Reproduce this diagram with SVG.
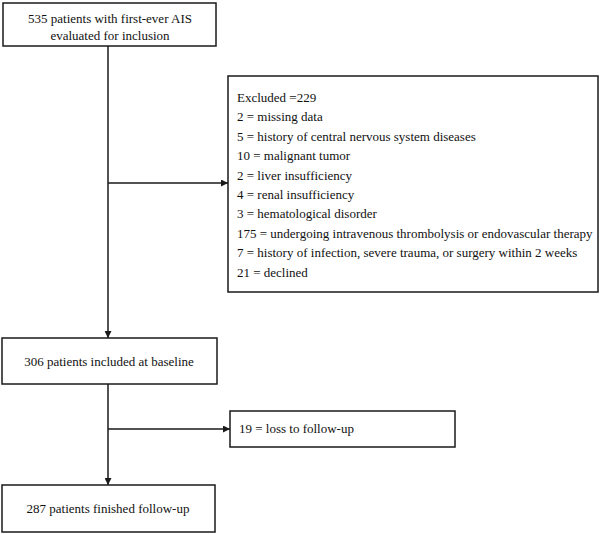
<svg xmlns="http://www.w3.org/2000/svg" width="600" height="534" viewBox="0 0 600 534">
<style>
.box{fill:#fff;stroke:#1a1a1a;stroke-width:1.5}
.t{font-family:"Liberation Serif","Times New Roman",serif;font-size:13px;fill:#111}
.c{text-anchor:middle}
.ln{stroke:#1a1a1a;stroke-width:1.5;fill:none}
</style>
<defs>
<marker id="ah" viewBox="0 0 10 10" refX="10" refY="5" markerWidth="7" markerHeight="7" markerUnits="userSpaceOnUse" orient="auto">
<path d="M0,0 L10,5 L0,10 z" fill="#1a1a1a"/>
</marker>
</defs>
<rect width="600" height="534" fill="#fff"/>
<g id="connectors">
<line class="ln" x1="108" y1="46" x2="108" y2="338" marker-end="url(#ah)"/>
<line class="ln" x1="108" y1="183" x2="228" y2="183" marker-end="url(#ah)"/>
<line class="ln" x1="108" y1="384" x2="108" y2="485" marker-end="url(#ah)"/>
<line class="ln" x1="108" y1="429" x2="230" y2="429" marker-end="url(#ah)"/>
</g>
<g id="n1">
<rect class="box" x="3" y="3" width="213" height="43"/>
<text class="t c" x="110" y="23">535 patients with first-ever AIS</text>
<text class="t c" x="110" y="40">evaluated for inclusion</text>
</g>
<g id="excluded">
<rect class="box" x="228" y="76" width="370" height="216"/>
<text class="t" x="237" y="102">Excluded =229</text>
<text class="t" x="237" y="121.4">2 = missing data</text>
<text class="t" x="237" y="140.8">5 = history of central nervous system diseases</text>
<text class="t" x="237" y="160.2">10 = malignant tumor</text>
<text class="t" x="237" y="179.6">2 = liver insufficiency</text>
<text class="t" x="237" y="199">4 = renal insufficiency</text>
<text class="t" x="237" y="218.4">3 = hematological disorder</text>
<text class="t" x="237" y="237.8">175 = undergoing intravenous thrombolysis or endovascular therapy</text>
<text class="t" x="237" y="257.2">7 = history of infection, severe trauma, or surgery within 2 weeks</text>
<text class="t" x="237" y="276.6">21 = declined</text>
</g>
<g id="n2">
<rect class="box" x="2" y="338" width="215" height="46"/>
<text class="t c" x="109" y="366">306 patients included at baseline</text>
</g>
<g id="loss">
<rect class="box" x="230" y="411" width="225" height="36"/>
<text class="t" x="239" y="433">19 = loss to follow-up</text>
</g>
<g id="n3">
<rect class="box" x="2" y="485" width="213" height="47"/>
<text class="t c" x="108" y="513">287 patients finished follow-up</text>
</g>
</svg>
